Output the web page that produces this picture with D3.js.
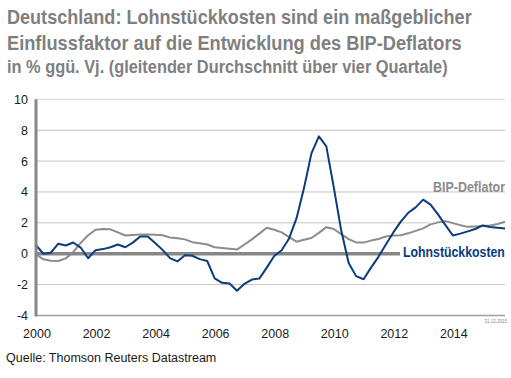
<!DOCTYPE html>
<html><head><meta charset="utf-8">
<script src="https://cdn.jsdelivr.net/npm/d3@7"></script>
<style>body{margin:0;background:#fff;} svg{display:block;}</style>
</head><body><svg id="c" width="511" height="378"></svg>
<script>
// quarterly data, 2000Q1 .. 2015Q4
const startYear = 2000;
const lohnstueckkosten = [0.55,0.0,0.07,0.65,0.53,0.73,0.4,-0.29,0.23,0.3,0.42,0.6,0.42,0.72,1.12,1.12,
  0.7,0.25,-0.28,-0.5,-0.1,-0.13,-0.35,-0.47,-1.6,-1.88,-1.93,-2.4,-1.95,-1.67,-1.61,-0.9,
  -0.15,0.23,0.99,2.3,4.25,6.5,7.6,6.95,4.3,1.5,-0.6,-1.45,-1.65,-0.9,-0.2,0.6,
  1.38,2.08,2.65,3.0,3.5,3.18,2.55,1.85,1.18,1.3,1.45,1.6,1.83,1.73,1.68,1.64];
const bipDeflator = [-0.05,-0.36,-0.45,-0.47,-0.3,0.1,0.7,1.2,1.55,1.6,1.58,1.38,1.18,1.22,1.25,1.24,
  1.23,1.2,1.05,1.0,0.93,0.75,0.68,0.6,0.42,0.37,0.32,0.27,0.6,0.93,1.3,1.68,
  1.55,1.38,1.08,0.78,0.9,1.02,1.35,1.72,1.6,1.27,0.95,0.73,0.72,0.85,0.95,1.12,
  1.18,1.2,1.32,1.48,1.64,1.9,2.03,2.1,1.98,1.85,1.74,1.77,1.8,1.83,1.92,2.07];
const yTicks = [-4,-2,0,2,4,6,8,10];
const xTicks = [2000,2002,2004,2006,2008,2010,2012,2014];
const titleLines = ["Deutschland: Lohnstückkosten sind ein maßgeblicher","Einflussfaktor auf die Entwicklung des BIP-Deflators"];
const subtitle = "in % ggü. Vj. (gleitender Durchschnitt über vier Quartale)";
const source = "Quelle: Thomson Reuters Datastream";
const dateStamp = "31.12.2015";
const seriesNames = ["BIP-Deflator","Lohnstückkosten"];

const svg = d3.select("#c");
const L = 36, R = 505, T = 99.3, B = 315.5;
const t = i => startYear + i/4;
const x = d3.scaleLinear().domain([2000, t(lohnstueckkosten.length-1)]).range([L, R]);
const y = d3.scaleLinear().domain([-4,10]).range([B, T]);
const navy = "#0b3c7d", grey = "#8c8c8c";
const sans = "Arial,'Liberation Sans',sans-serif";

// condensed look: scale a normal bold face horizontally to the reference width
function fitText(sel, x0, y0, width) {
  sel.attr("x",0).attr("y",0);
  const w = sel.node().getComputedTextLength();
  const k = Math.min(1, width / w);
  sel.attr("transform", `translate(${x0},${y0}) scale(${k},1)`);
}
const titleWidths = [465, 455];
titleLines.forEach((d,i) => {
  const s = svg.append("text").attr("font-family",sans).attr("font-weight","bold")
    .attr("font-size",21).attr("fill","#7f7f7f").text(d);
  fitText(s, 7, 24 + i*25.5, titleWidths[i]);
});
fitText(svg.append("text").attr("font-family",sans).attr("font-weight","bold")
  .attr("font-size",18).attr("fill","#7f7f7f").text(subtitle), 7, 73, 441);

// gridlines
const gridEnd = v => v===2 ? 430 : R;
svg.selectAll("line.grid").data(yTicks.filter(v=>v!==0 && v!==-4)).enter().append("line")
  .attr("x1",L).attr("x2",d=>gridEnd(d)).attr("y1",d=>y(d)).attr("y2",d=>y(d))
  .attr("stroke",d=>d===10?"#d8d8d8":"#c4c4c4").attr("stroke-width",1);
// bottom line
svg.append("line").attr("x1",L).attr("x2",R).attr("y1",y(-4)).attr("y2",y(-4))
  .attr("stroke","#a0a0a0").attr("stroke-width",1.5);

// lines
const line = d3.line().x((d,i)=>x(t(i))).y(d=>y(d));
svg.append("path").datum(bipDeflator).attr("d",line).attr("fill","none")
  .attr("stroke",grey).attr("stroke-width",2).attr("stroke-linejoin","round");
// zero line
svg.append("line").attr("x1",L).attr("x2",400).attr("y1",y(0)).attr("y2",y(0))
  .attr("stroke","#878787").attr("stroke-width",3.5);
svg.append("path").datum(lohnstueckkosten).attr("d",line).attr("fill","none")
  .attr("stroke",navy).attr("stroke-width",2).attr("stroke-linejoin","round");

// y axis line
svg.append("line").attr("x1",L).attr("x2",L).attr("y1",T).attr("y2",B+1)
  .attr("stroke","#878787").attr("stroke-width",3);

// tick labels
svg.selectAll("text.yt").data(yTicks).enter().append("text")
  .attr("x",28).attr("y",d=>y(d)+4.5).attr("text-anchor","end")
  .attr("font-family",sans).attr("font-size",12.5).attr("fill","#1a1a1a").text(d=>d);
svg.selectAll("text.xt").data(xTicks).enter().append("text")
  .attr("x",d=>x(d)+1).attr("y",338).attr("text-anchor","middle")
  .attr("font-family",sans).attr("font-size",12.5).attr("fill","#1a1a1a").text(d=>d);

// series labels
fitText(svg.append("text").attr("font-family",sans).attr("font-weight","bold").attr("font-size",14)
  .attr("fill",grey).text(seriesNames[0]), 433, 192, 72);
fitText(svg.append("text").attr("font-family",sans).attr("font-weight","bold").attr("font-size",14)
  .attr("fill",navy).text(seriesNames[1]), 403, 256.5, 102);

// source and date
svg.append("text").attr("x",6).attr("y",362).attr("font-family",sans)
  .attr("font-size",12.5).attr("fill","#1a1a1a").text(source);
svg.append("text").attr("x",R+2).attr("y",323).attr("text-anchor","end").attr("font-family",sans)
  .attr("font-size",4.5).attr("fill","#888").text(dateStamp);
</script></body></html>
